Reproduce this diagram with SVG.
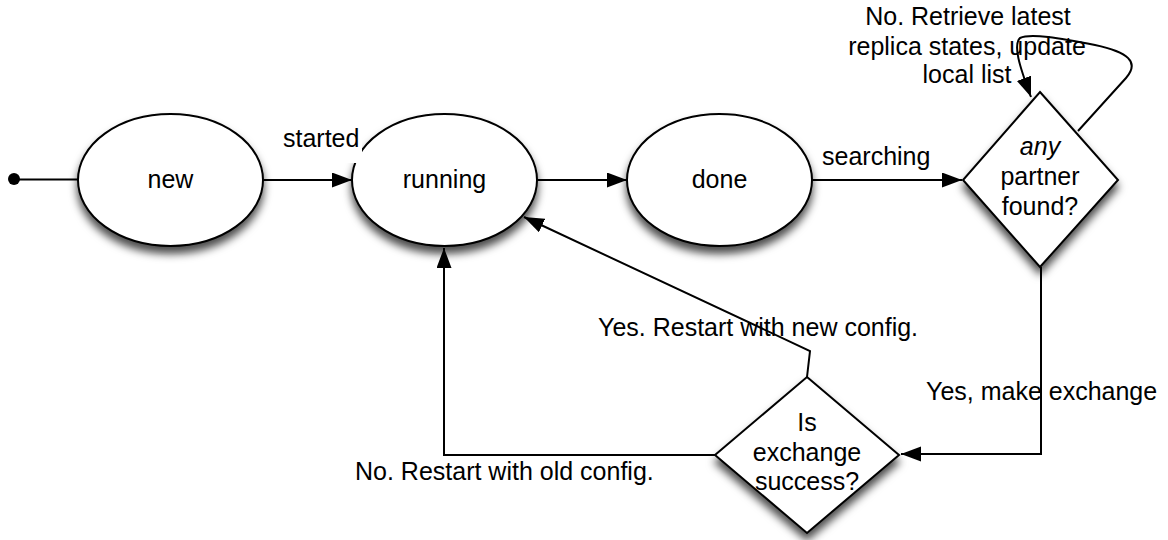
<svg xmlns="http://www.w3.org/2000/svg" width="1168" height="540" viewBox="0 0 1168 540">
<style>
  .node { fill: #ffffff; stroke: #000000; stroke-width: 2; }
  .edge { fill: none; stroke: #000000; stroke-width: 2; }
  .arrow { marker-end: url(#arrowhead); }
  text { font-family: "Liberation Sans", Arial, Helvetica, sans-serif; font-size: 25px; fill: #000000; }
  .c { text-anchor: middle; }
  .s { text-anchor: start; }
  .it { font-style: italic; }
</style>
<defs>
  <filter id="shadow" x="-25%" y="-25%" width="150%" height="160%" color-interpolation-filters="sRGB">
    <feGaussianBlur in="SourceAlpha" stdDeviation="4" result="b"/>
    <feOffset in="b" dx="0" dy="7" result="o"/>
    <feFlood flood-color="#000000" flood-opacity="0.7" result="f"/>
    <feComposite in="f" in2="o" operator="in" result="s"/>
    <feMerge><feMergeNode in="s"/><feMergeNode in="SourceGraphic"/></feMerge>
  </filter>
  <marker id="arrowhead" markerUnits="userSpaceOnUse" markerWidth="21" markerHeight="16" refX="20" refY="7.5" orient="auto">
    <path d="M0,0 L20,7.5 L0,15 z" fill="#000000"/>
  </marker>
</defs>
<rect x="0" y="0" width="1168" height="540" fill="#ffffff"/>

<g id="connectors">
  <circle cx="14" cy="179" r="6" fill="#000000"/>
  <path class="edge" d="M14,179.5 L78,179.5"/>
  <path class="edge arrow" d="M263,180 L352,180"/>
  <path class="edge arrow" d="M537,180 L627,180"/>
  <path class="edge arrow" d="M812,180 L962,180"/>
  <path class="edge arrow" d="M1078,131 L1126,78 C1140,62 1128,52 1095,45 C1060,38 1030,33 1020,38 C1013,45 1019,65 1031,97"/>
  <path class="edge arrow" d="M1041,267 L1041,454 L901,454"/>
  <path class="edge arrow" d="M807,377 L810,351 L524,217"/>
  <path class="edge arrow" d="M715,455 L444,455 L444,248"/>
</g>

<g id="node-new">
  <ellipse class="node" filter="url(#shadow)" cx="170.5" cy="180" rx="92.5" ry="66"/>
  <text class="c" x="170.5" y="188">new</text>
</g>
<g id="node-running">
  <ellipse class="node" filter="url(#shadow)" cx="444.5" cy="180" rx="92.5" ry="66"/>
  <text class="c" x="444.5" y="188">running</text>
</g>
<g id="node-done">
  <ellipse class="node" filter="url(#shadow)" cx="719.5" cy="180" rx="92.5" ry="66"/>
  <text class="c" x="719.5" y="188">done</text>
</g>
<g id="node-partner">
  <polygon class="node" filter="url(#shadow)" points="1040,92 1118,180 1040,267 963,180"/>
  <text class="c it" x="1040" y="155">any</text>
  <text class="c" x="1040" y="185">partner</text>
  <text class="c" x="1040" y="215">found?</text>
</g>
<g id="node-exchange">
  <polygon class="node" filter="url(#shadow)" points="807,377 899,455 807,533 715,455"/>
  <text class="c" x="807" y="431">Is</text>
  <text class="c" x="807" y="461">exchange</text>
  <text class="c" x="807" y="490">success?</text>
</g>

<g id="labels">
  <rect x="281" y="127" width="81" height="36" fill="#ffffff"/>
  <text class="s" x="283" y="147">started</text>
  <text class="s" x="822" y="165">searching</text>
  <text class="c" x="968" y="25">No. Retrieve latest</text>
  <text class="c" x="967" y="55">replica states, update</text>
  <text class="c" x="967" y="83">local list</text>
  <text class="s" x="598" y="336">Yes. Restart with new config.</text>
  <text class="s" x="926" y="400">Yes, make exchange</text>
  <text class="s" x="355" y="480">No. Restart with old config.</text>
</g>
</svg>
